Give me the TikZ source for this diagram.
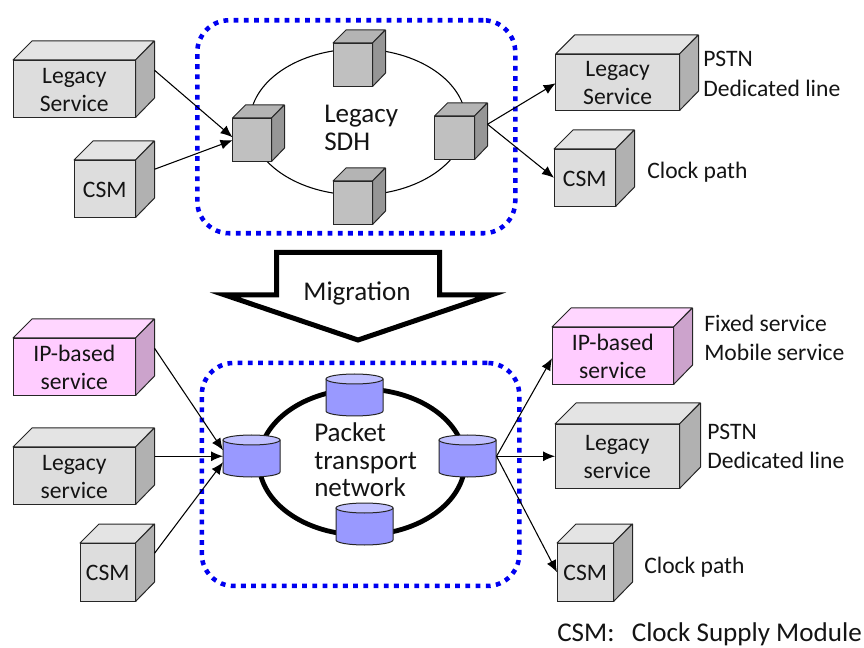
\documentclass[tikz,border=0pt]{standalone}
\usepackage{fontspec}
\setmainfont{Carlito}
\usetikzlibrary{arrows.meta,calc}
\definecolor{gf}{HTML}{DDDDDD}\definecolor{gt}{HTML}{E4E4E4}\definecolor{gs}{HTML}{B1B1B1}
\definecolor{sf}{HTML}{C0C0C0}\definecolor{st}{HTML}{B4B4B4}\definecolor{ss}{HTML}{969696}
\definecolor{pf}{HTML}{FFCCFF}\definecolor{pt}{HTML}{FFD6FF}\definecolor{ps}{HTML}{CCA3CC}
\definecolor{cb}{HTML}{9999FF}\definecolor{ct}{HTML}{C0C0FF}
\definecolor{dotblue}{HTML}{0000F0}
\tikzset{
  x=0.75pt,y=-0.75pt,
  lab/.style={font=\fontsize{17.7}{21}\selectfont,inner sep=0pt,align=center,text=black!92},
  biglab/.style={lab,font=\fontsize{20.3}{20.6}\selectfont},
  leftlab/.style={lab,align=left,anchor=west},
  face/.style={draw=black!85,line width=0.75pt,line join=round},
  conn/.style={draw=black,line width=0.8pt,-{Latex[length=9pt,width=7.5pt]}},
  zone/.style={draw=dotblue,line width=3.4pt,dash pattern=on 3.6pt off 4.05pt,rounded corners=24pt},
  ring/.style={draw=black,line width=0.8pt},
  thickring/.style={draw=black,line width=3.6pt},
}
% name, x, y, w, h, d, palette prefix, text
\newcommand{\cubeN}[8]{%
  \node[inner sep=0pt,minimum width=#4*0.75pt,minimum height=#5*0.75pt,anchor=north west,lab] (#1) at (#2,#3) {};
  \fill[#7t,face] (#1.north west) -- ++(#6,-#6) -- ++(#4,0) -- ($(#1.north east)$) -- cycle;
  \fill[#7s,face] (#1.north east) -- ++(#6,-#6) -- ++(0,#5) -- (#1.south east) -- cycle;
  \node[draw=black!85,line width=0.75pt,fill=#7f,inner sep=0pt,minimum width=#4*0.75pt,minimum height=#5*0.75pt,lab] (#1-front) at (#1.center) {};
  \node[lab] (#1-text) at ([shift={(0,1)}]#1.center) {#8};
}
% name, left, top, right, bottom
\newcommand{\cylN}[5]{%
  \node[inner sep=0pt,minimum width=#4*0.75pt-#2*0.75pt,minimum height=#5*0.75pt-#3*0.75pt,anchor=north west] (#1) at (#2,#3) {};
  \draw[face,fill=cb] (#2,#3+5) -- (#2,#5-5) arc[start angle=180,end angle=0,x radius=0.5*#4-0.5*#2,y radius=5] -- (#4,#3+5) -- cycle;
  \draw[face,fill=ct] ({0.5*#2+0.5*#4},#3+5) ellipse[x radius=0.5*#4-0.5*#2,y radius=5];
}
\begin{document}
\begin{tikzpicture}
\useasboundingbox (0,0) rectangle (864,648);
% rings
\draw[ring] (358,122) ellipse[x radius=108,y radius=73];
\draw[thickring] (362,462) ellipse[x radius=103,y radius=73];
% zones
\node[zone,minimum width=238.5pt,minimum height=159.75pt,anchor=north west,inner sep=0pt] (zoneA) at (195,18) {};
\node[zone,minimum width=238.125pt,minimum height=167.25pt,anchor=north west,inner sep=0pt] (zoneB) at (199.5,360.7) {};
% top cubes
\cubeN{la}{13}{60}{122}{57}{19}{g}{Legacy\\Service}
\cubeN{ca}{74}{160}{61}{57}{19}{g}{CSM}
\cubeN{sl}{232.5}{118}{38.5}{43}{13}{s}{}
\cubeN{st}{333}{43}{39}{43}{13}{s}{}
\cubeN{sb}{333}{181}{39}{43}{13}{s}{}
\cubeN{sr}{434.5}{116}{39.5}{43}{13}{s}{}
\cubeN{lb}{555.7}{54}{123.3}{56}{19}{g}{Legacy\\Service}
\cubeN{cb}{554}{149}{61}{57}{19}{g}{CSM}
\node[biglab,align=left,anchor=west] (sdh) at (324,128) {Legacy\\SDH};
\node[leftlab] (pstnA) at (703,59) {PSTN};
\node[leftlab] (dedA) at (703,88) {Dedicated line};
\node[leftlab] (clkA) at (647,172) {Clock path};
% migration arrow
\draw[black,line width=3.75pt,fill=white,miter limit=10] (276.5,252.5) -- (439.5,252.5) -- (439.5,295) -- (491,295) -- (358,340) -- (225,295) -- (276.5,295) -- cycle;
\node[biglab] (mig) at (357,293.5) {Migration};
% bottom cubes
\cubeN{ic}{13}{338}{122}{57}{19}{p}{IP-based\\service}
\cubeN{lc}{13}{447}{122}{57}{19}{g}{Legacy\\service}
\cubeN{cc}{80}{543}{55}{58}{19}{g}{CSM}
\cubeN{id}{552}{327}{121}{57}{19}{p}{IP-based\\service}
\cubeN{ld}{555}{424}{124}{64}{21}{g}{Legacy\\service}
\cubeN{cd}{557}{543}{56}{58}{19}{g}{CSM}
\cylN{yl}{223}{435}{280}{477}
\cylN{yt}{326}{374}{383}{416}
\cylN{yb}{336}{503}{393}{545}
\cylN{yr}{439}{435}{496}{477}
\node[biglab,align=left,anchor=west] (ptn) at (314,460) {Packet\\transport\\network};
\node[leftlab] (fix) at (704,323.5) {Fixed service};
\node[leftlab] (mob) at (704,352.5) {Mobile service};
\node[leftlab] (pstnB) at (707,432) {PSTN};
\node[leftlab] (dedB) at (707,460) {Dedicated line};
\node[leftlab] (clkB) at (644,567) {Clock path};
\node[leftlab,font=\fontsize{20.3}{21}\selectfont] (legend) at (557,634.5) {CSM:\hspace{13pt}Clock Supply Module};
% connectors
\draw[conn] ([shift={(19,-18.5)}]la.east) -- ([shift={(0,-2.5)}]sl.west);
\draw[conn] ([shift={(19,-19.5)}]ca.east) -- ([shift={(0,0.5)}]sl.west);
\draw[conn] ([shift={(13,-13.5)}]sr.east) -- ([shift={(0,1)}]lb.west);
\draw[conn] ([shift={(13,-13.5)}]sr.east) -- (cb.west);
\draw[conn] ([shift={(19,-18.5)}]ic.east) -- ([shift={(0,-6)}]yl.west);
\draw[conn] ([shift={(19,-19.5)}]lc.east) -- (yl.west);
\draw[conn] ([shift={(19,-19)}]cc.east) -- ([shift={(0,6)}]yl.west);
\draw[conn] (yr.east) -- ([shift={(0,2.5)}]id.west);
\draw[conn] (yr.east) -- (ld.west);
\draw[conn] (yr.east) -- (cd.west);
\end{tikzpicture}
\end{document}
